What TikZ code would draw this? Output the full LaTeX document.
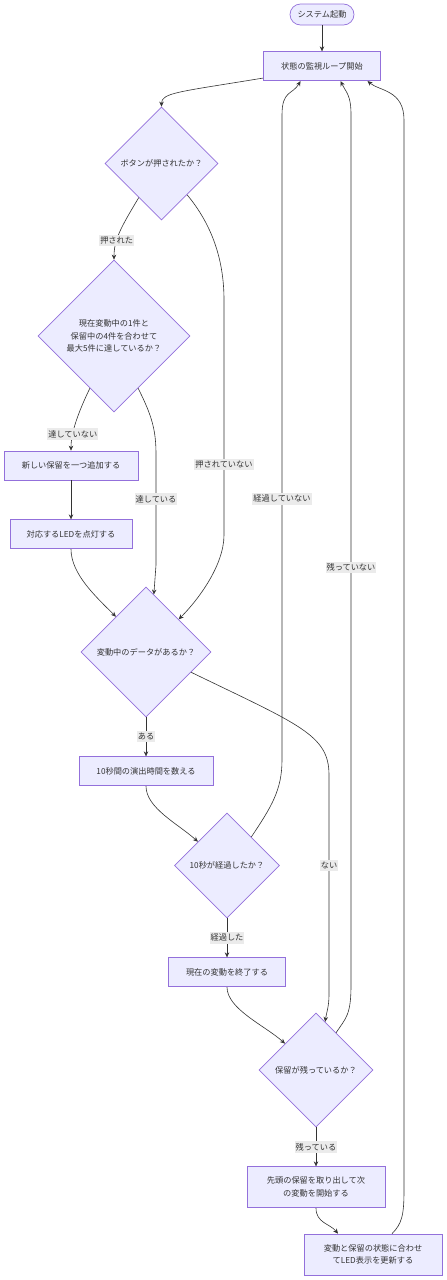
\documentclass[tikz,border=0pt]{standalone}
\usepackage{fontspec}
\setmainfont{Noto Sans CJK JP}
\usepackage{xcolor}
\usepackage{tikz}
\usetikzlibrary{shapes.geometric, arrows.meta, positioning, calc}
\definecolor{nodefill}{HTML}{ECECFF}
\definecolor{nodeline}{HTML}{9370DB}
\definecolor{edgeline}{HTML}{333333}
\definecolor{textcol}{HTML}{333333}
\definecolor{lblfill}{HTML}{EBEBEB}

\begin{document}
\begin{tikzpicture}[
        x=1pt, y=1pt,
        font=\fontsize{8.2}{12.7}\selectfont,
        term/.style={rectangle, rounded corners=10.5pt, draw=nodeline, fill=nodefill, text=textcol, line width=0.7pt, minimum width=64pt, minimum height=21pt, inner sep=2pt},
        box/.style={rectangle, draw=nodeline, fill=nodefill, text=textcol, line width=0.7pt, minimum height=29pt, align=center, inner sep=2pt},
        decision/.style={diamond, aspect=1, draw=nodeline, fill=nodefill, text=textcol, line width=0.7pt, align=center, inner sep=1pt},
        arrow/.style={-{Stealth[length=5pt, width=4.5pt]}, line width=0.6pt, draw=edgeline},
        lbl/.style={fill=lblfill, text=textcol, inner xsep=1pt, inner ysep=2pt},
        node distance=39pt
    ]
        \useasboundingbox (0,0) rectangle (447,-1280);

        \node[term] (start) at (322,-14.5) {システム起動};
        \node[box, minimum width=117pt, below=26pt of start] (loop) {状態の監視ループ開始};
        \node[decision, minimum size=113pt] (btn) at (161.5,-163.5) {ボタンが押されたか？};
        \node[decision, minimum size=152pt] (full) at (114,-336) {現在変動中の1件と\\保留中の4件を合わせて\\最大5件に達しているか？};
        \node[box, minimum width=134pt] (addhold) at (71,-465.5) {新しい保留を一つ追加する};
        \node[box, minimum width=122pt, below=of addhold] (led) {対応するLEDを点灯する};
        \node[decision, minimum size=130pt] (active) at (146,-652) {変動中のデータがあるか？};
        \node[box, minimum width=134pt, below=of active] (count) {10秒間の演出時間を数える};
        \node[decision, minimum size=105pt] (elapsed) at (227,-865.5) {10秒が経過したか？};
        \node[box, minimum width=117pt, below=of elapsed] (finish) {現在の変動を終了する};
        \node[decision, minimum size=114pt] (remain) at (316,-1070) {保留が残っているか？};
        \node[box, minimum width=138pt, minimum height=41pt, below=of remain] (nexthold) {先頭の保留を取り出して次\\の変動を開始する};
        \node[box, minimum width=138pt, minimum height=41pt] (update) at (373,-1254.5) {変動と保留の状態に合わせ\\てLED表示を更新する};

        \draw[arrow] (start) -- (loop);
        \draw[arrow] ([yshift=3pt]loop.south west) .. controls +(-85,-14) and +(0,14) .. (btn.north);
        \draw[arrow] ($(btn.south)!0.4!(btn.west)$) .. controls +(-18,-30) and +(0,20) .. (full.north) node[lbl, pos=0.65] (l1) {押された};
        \draw[arrow] ($(full.south)!0.316!(full.west)$) .. controls +(-12,-25) and +(0,18) .. (addhold.north) node[lbl, pos=0.7] (l2) {達していない};
        \draw[arrow] ($(full.south)!0.316!(full.east)$) .. controls +(14,-28) and +(0,25) .. (156,-455) -- node[lbl, pos=0.4] (l3) {達している} (156,-565) -- ($(active.north)!0.12!(active.east)$);
        \draw[arrow] (addhold) -- (led);
        \draw[arrow] (led.south) .. controls +(0,-25) and +(-20,20) .. ($(active.north)!0.46!(active.west)$);
        \draw[arrow] ($(btn.south)!0.45!(btn.east)$) .. controls +(25,-30) and +(0,40) .. (224,-300) -- node[lbl, pos=0.7] (l4) {押されていない} (224,-535) .. controls +(0,-30) and +(20,20) .. ($(active.north)!0.5!(active.east)$);
        \draw[arrow] (active) -- node[lbl] (l5) {ある} (count);
        \draw[arrow] (count.south) .. controls +(0,-22) and +(-20,18) .. ($(elapsed.north)!0.55!(elapsed.west)$);
        \draw[arrow] ($(elapsed.north)!0.46!(elapsed.east)$) .. controls +(20,30) and +(0,-30) .. (282,-760) -- node[lbl, pos=0.405] (l6) {経過していない} (282,-115) .. controls +(0,25) and +(-8,-14) .. ([xshift=-21.5pt]loop.south);
        \draw[arrow] ($(active.south)!0.69!(active.east)$) .. controls (300,-725) and (329,-735) .. (329,-775) -- node[lbl, pos=0.41] (l7) {ない} (329,-995) .. controls +(0,-12) and +(1,8) .. ($(remain.north)!0.16!(remain.east)$);
        \draw[arrow] (elapsed) -- node[lbl] (l8) {経過した} (finish);
        \draw[arrow] (finish.south) .. controls +(0,-22) and +(-20,18) .. ($(remain.north)!0.54!(remain.west)$);
        \draw[arrow] ($(remain.north)!0.35!(remain.east)$) .. controls +(10,15) and +(0,-30) .. (351,-985) -- node[lbl, pos=0.48] (l9) {残っていない} (351,-115) .. controls +(0,20) and +(6,-12) .. ([xshift=18.5pt]loop.south);
        \draw[arrow] (remain) -- node[lbl] (l10) {残っている} (nexthold);
        \draw[arrow] (nexthold.south) .. controls +(0,-15) and +(-8,10) .. ([xshift=-35pt]update.north);
        \draw[arrow] ([xshift=19pt]update.north) .. controls +(10,10) and +(0,-25) .. (404,-1190) -- (404,-120) .. controls +(0,30) and +(12,-10) .. ([xshift=45.5pt]loop.south);
    \end{tikzpicture}
\end{document}
